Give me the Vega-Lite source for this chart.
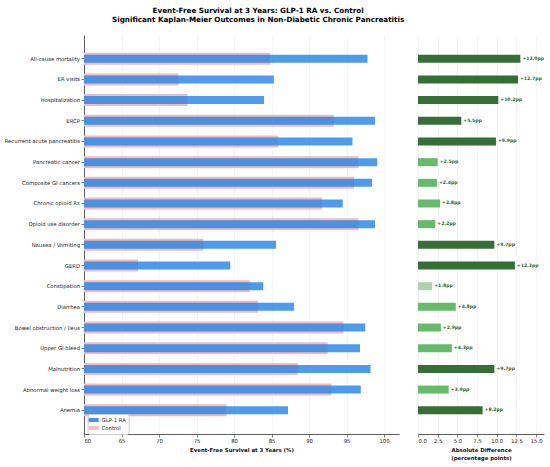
{
  "$schema": "https://vega.github.io/schema/vega-lite/v6.json",
  "background": "white",
  "padding": {"left": 4, "top": 6, "right": 5, "bottom": 5},
  "title": {
    "text": ["Event-Free Survival at 3 Years: GLP-1 RA vs. Control", "Significant Kaplan-Meier Outcomes in Non-Diabetic Chronic Pancreatitis"],
    "fontSize": 7.2,
    "fontWeight": "bold",
    "lineHeight": 9,
    "anchor": "middle",
    "dx": -16,
    "offset": 12,
    "color": "#000"
  },
  "config": {
    "font": "DejaVu Sans",
    "view": {"stroke": null},
    "axis": {
      "labelFont": "DejaVu Sans",
      "titleFont": "DejaVu Sans",
      "labelFontSize": 5.3,
      "titleFontSize": 5.4,
      "titleFontWeight": "bold",
      "labelColor": "#222",
      "titleColor": "#111",
      "domainColor": "#333",
      "domainWidth": 0.8,
      "tickColor": "#333",
      "tickWidth": 0.6,
      "tickSize": 3,
      "labelPadding": 1.5,
      "gridColor": "#ececec",
      "gridWidth": 0.6
    }
  },
  "data": {
    "values": [
      {"outcome": "All-cause mortality", "GLP-1 RA": 97.8, "Control": 84.8, "diff": 13.0},
      {"outcome": "ER visits", "GLP-1 RA": 85.3, "Control": 72.6, "diff": 12.7},
      {"outcome": "Hospitalization", "GLP-1 RA": 84.0, "Control": 73.8, "diff": 10.2},
      {"outcome": "ERCP", "GLP-1 RA": 98.8, "Control": 93.3, "diff": 5.5},
      {"outcome": "Recurrent acute pancreatitis", "GLP-1 RA": 95.8, "Control": 85.9, "diff": 9.9},
      {"outcome": "Pancreatic cancer", "GLP-1 RA": 99.1, "Control": 96.6, "diff": 2.5},
      {"outcome": "Composite GI cancers", "GLP-1 RA": 98.4, "Control": 96.0, "diff": 2.4},
      {"outcome": "Chronic opioid Rx", "GLP-1 RA": 94.5, "Control": 91.7, "diff": 2.8},
      {"outcome": "Opioid use disorder", "GLP-1 RA": 98.8, "Control": 96.6, "diff": 2.2},
      {"outcome": "Nausea / Vomiting", "GLP-1 RA": 85.6, "Control": 75.9, "diff": 9.7},
      {"outcome": "GERD", "GLP-1 RA": 79.5, "Control": 67.2, "diff": 12.3},
      {"outcome": "Constipation", "GLP-1 RA": 83.9, "Control": 82.1, "diff": 1.8},
      {"outcome": "Diarrhea", "GLP-1 RA": 88.0, "Control": 83.2, "diff": 4.8},
      {"outcome": "Bowel obstruction / Ileus", "GLP-1 RA": 97.5, "Control": 94.6, "diff": 2.9},
      {"outcome": "Upper GI bleed", "GLP-1 RA": 96.8, "Control": 92.5, "diff": 4.3},
      {"outcome": "Malnutrition", "GLP-1 RA": 98.2, "Control": 88.5, "diff": 9.7},
      {"outcome": "Abnormal weight loss", "GLP-1 RA": 96.9, "Control": 93.0, "diff": 3.9},
      {"outcome": "Anemia", "GLP-1 RA": 87.2, "Control": 79.0, "diff": 8.2}
    ]
  },
  "spacing": 18,
  "resolve": {
    "scale": {"x": "independent", "y": "independent", "color": "independent"},
    "legend": {"color": "independent"}
  },
  "hconcat": [
    {
      "width": 315,
      "height": 399,
      "transform": [{"fold": ["GLP-1 RA", "Control"], "as": ["group", "survival"]}],
      "encoding": {
        "y": {
          "field": "outcome",
          "type": "nominal",
          "sort": null,
          "scale": {"paddingInner": 0, "paddingOuter": 0.65},
          "axis": {"title": null, "grid": false, "labelLimit": 200}
        },
        "x": {
          "field": "survival",
          "type": "quantitative",
          "scale": {"domain": [60, 102], "nice": false, "zero": false},
          "axis": {
            "values": [60, 65, 70, 75, 80, 85, 90, 95, 100],
            "title": "Event-Free Survival at 3 Years (%)",
            "grid": true,
            "titlePadding": 4
          }
        },
        "color": {
          "field": "group",
          "type": "nominal",
          "scale": {"domain": ["GLP-1 RA", "Control"], "range": ["#2e8ae6", "#f6b9b9"]},
          "legend": {
            "title": null,
            "orient": "none",
            "legendX": 3.6,
            "legendY": 379,
            "padding": 2,
            "strokeColor": "#cccccc",
            "fillColor": "white",
            "cornerRadius": 2,
            "labelFontSize": 5.3,
            "labelColor": "#222",
            "labelOffset": 4,
            "rowPadding": 0,
            "symbolType": "M-1.25,-0.5H1.25V0.5H-1.25Z",
            "symbolSize": 64,
            "symbolStrokeWidth": 0,
            "symbolOpacity": 0.9
          }
        }
      },
      "layer": [
        {
          "transform": [{"filter": "datum.group === 'Control'"}],
          "mark": {"type": "bar", "size": 12, "clip": true}
        },
        {
          "transform": [{"filter": "datum.group === 'GLP-1 RA'"}],
          "mark": {"type": "bar", "size": 8, "opacity": 0.85, "clip": true}
        }
      ]
    },
    {
      "width": 126,
      "height": 399,
      "encoding": {
        "y": {
          "field": "outcome",
          "type": "nominal",
          "sort": null,
          "scale": {"paddingInner": 0, "paddingOuter": 0.65},
          "axis": null
        },
        "x": {
          "field": "diff",
          "type": "quantitative",
          "scale": {"domain": [0, 16], "nice": false},
          "axis": {
            "values": [0, 2.5, 5, 7.5, 10, 12.5, 15],
            "format": ".1f",
            "title": ["Absolute Difference", "(percentage points)"],
            "grid": true,
            "titlePadding": 4
          }
        }
      },
      "layer": [
        {
          "mark": {"type": "bar", "size": 8},
          "encoding": {
            "color": {
              "field": "diff",
              "type": "quantitative",
              "scale": {"type": "threshold", "domain": [2, 5], "range": ["#a8d8a9", "#66bb6a", "#366f36"]},
              "legend": null
            }
          }
        },
        {
          "transform": [{"calculate": "'+' + format(datum.diff, '.1f') + 'pp'", "as": "label"}],
          "mark": {"type": "text", "align": "left", "baseline": "middle", "dx": 2, "fontSize": 4.6, "fontWeight": "bold", "color": "#2e6b30"},
          "encoding": {"text": {"field": "label"}}
        }
      ]
    }
  ]
}
